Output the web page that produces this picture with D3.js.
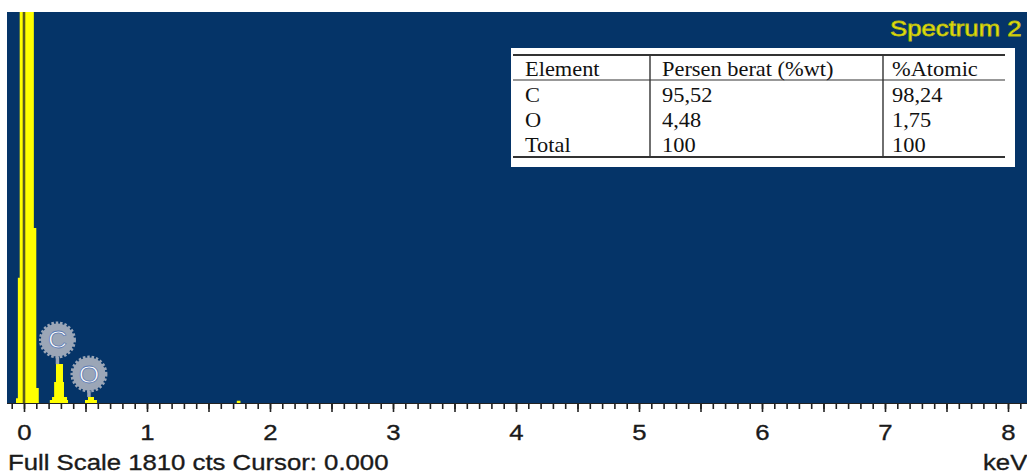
<!DOCTYPE html>
<html>
<head>
<meta charset="utf-8">
<script src="https://cdn.jsdelivr.net/npm/d3@7"></script>
<style>
  body { margin: 0; background: #fff; overflow: hidden; }
  svg { display: block; }
</style>
</head>
<body>
<svg id="chart" width="1027" height="474"></svg>
<script>
// Spectrum channels (keV start of each step) and counts
const energy = [-0.12, -0.065, -0.05, -0.035, 0.08, 0.10, 0.12,
  0.21, 0.228, 0.245, 0.26, 0.317, 0.325, 0.35, 0.358,
  0.496, 0.52, 0.569, 0.593,
  1.73, 1.76, 8.3]
const counts = [0, 22, 580, 2600, 810, 70, 0,
  14, 28, 97, 180, 97, 28, 14, 0,
  14, 28, 14, 0,
  10, 0, 0]

// Element markers
const elements = ['C', 'O']
const elementEnergy = [0.272, 0.528]
const elementLabelCts = [292, 134]
const elementPeakCts = [180, 28]

// Axis
const majorTicks = [0, 0.5, 1, 1.5, 2, 2.5, 3, 3.5, 4, 4.5, 5, 5.5, 6, 6.5, 7, 7.5, 8]
const tickLabels = ['0', '1', '2', '3', '4', '5', '6', '7', '8']
const fullScale = 1810
const cursor = 0.000

// Results table
const tableHeader = ['Element', 'Persen berat (%wt)', '%Atomic']
const tableElement = ['C', 'O', 'Total']
const tableWt = ['95,52', '4,48', '100']
const tableAt = ['98,24', '1,75', '100']

const svg = d3.select('#chart')
const plot = { left: 7, right: 1027, top: 12, bottom: 403 }
const sx = 1.17
const sans = 'Liberation Sans, Arial, sans-serif'

let x = d3.scaleLinear().domain([0, 8]).range([24, 1008])
let y = d3.scaleLinear().domain([0, fullScale]).range([plot.bottom, plot.top])

svg.append('defs').append('clipPath').attr('id', 'plotClip')
  .append('rect')
  .attr('x', plot.left).attr('y', plot.top)
  .attr('width', plot.right - plot.left).attr('height', plot.bottom - plot.top)

// Background
svg.append('rect')
  .attr('x', plot.left).attr('y', plot.top)
  .attr('width', plot.right - plot.left).attr('height', plot.bottom - plot.top)
  .attr('fill', '#053468')

let g = svg.append('g').attr('clip-path', 'url(#plotClip)')

let spectrum = energy.map((e, i) => ({ e: e, c: counts[i] }))
let area = d3.area()
  .curve(d3.curveStepAfter)
  .x(d => x(d.e))
  .y0(y(0))
  .y1(d => y(d.c))

g.append('path')
  .datum(spectrum)
  .attr('d', area)
  .attr('fill', '#ffff00')

// Cursor
g.append('line')
  .attr('x1', x(cursor)).attr('x2', x(cursor))
  .attr('y1', plot.top).attr('y2', y(0))
  .attr('stroke', '#5a5a1e')
  .attr('stroke-width', 2.6)

// Element markers
elements.forEach((el, i) => {
  let cx = x(elementEnergy[i])
  let cy = y(elementLabelCts[i])
  let r = 16.5
  let m = g.append('g')
  m.append('line')
    .attr('x1', cx).attr('x2', cx)
    .attr('y1', cy + r).attr('y2', y(elementPeakCts[i]))
    .attr('stroke', '#9aa5b6')
    .attr('stroke-width', 3.5)
  m.append('circle')
    .attr('cx', cx).attr('cy', cy).attr('r', r)
    .attr('fill', '#9ba6b7')
    .attr('stroke', '#9ba6b7')
    .attr('stroke-width', 4)
    .attr('stroke-dasharray', '2.4 1.8')
  m.append('text')
    .attr('transform', `translate(${cx},${cy + 8.5}) scale(1.1,1)`)
    .attr('text-anchor', 'middle')
    .attr('font-family', sans)
    .attr('font-size', 24)
    .attr('fill', '#ffffff')
    .attr('stroke', '#5f7db4')
    .attr('stroke-width', 0.8)
    .text(el)
})

// Axis
let axisG = svg.append('g').attr('transform', `translate(0,${plot.bottom})`)
let minorTicks = d3.range(-1, 83).map(d => d / 10)
axisG.append('g')
  .call(d3.axisBottom(x).tickValues(minorTicks).tickSize(6).tickFormat(''))
  .call(a => a.select('.domain').remove())
axisG.append('g')
  .call(d3.axisBottom(x).tickValues(majorTicks).tickSize(9)
    .tickFormat(d => Number.isInteger(d) ? tickLabels[d] : ''))
  .call(a => a.select('.domain').remove())
  .call(a => a.selectAll('text')
    .attr('y', 37)
    .attr('dy', 0)
    .attr('transform', `scale(${sx},1)`)
    .attr('font-family', sans)
    .attr('font-size', 22)
    .attr('fill', '#1a1a1a')
    .attr('stroke', '#1a1a1a')
    .attr('stroke-width', 0.35))
axisG.selectAll('.tick line').attr('stroke', '#222').attr('stroke-width', 1.6)
axisG.append('line')
  .attr('x1', plot.left).attr('x2', plot.right)
  .attr('y1', 0.5).attr('y2', 0.5)
  .attr('stroke', '#222')

// Footer texts
svg.append('text')
  .attr('transform', `translate(8,470) scale(${sx},1)`)
  .attr('font-family', sans)
  .attr('font-size', 22)
  .attr('fill', '#1a1a1a')
  .attr('stroke', '#1a1a1a')
  .attr('stroke-width', 0.35)
  .text('Full Scale ' + fullScale + ' cts Cursor: ' + cursor.toFixed(3))
svg.append('text')
  .attr('transform', `translate(983,470) scale(${sx},1)`)
  .attr('font-family', sans)
  .attr('font-size', 22)
  .attr('fill', '#1a1a1a')
  .attr('stroke', '#1a1a1a')
  .attr('stroke-width', 0.35)
  .text('keV')

// Title
svg.append('text')
  .attr('transform', `translate(890,36) scale(${sx},1)`)
  .attr('font-family', sans)
  .attr('font-size', 22)
  .attr('fill', '#e8e80c')
  .attr('stroke', '#b8b810')
  .attr('stroke-width', 0.8)
  .text('Spectrum 2')

// Table
let tb = svg.append('g')
tb.append('rect')
  .attr('x', 511).attr('y', 48).attr('width', 504).attr('height', 119)
  .attr('fill', '#ffffff')
const hLines = [[55, 2], [80, 1.2], [157, 2]]
hLines.forEach(h => {
  tb.append('line')
    .attr('x1', 513).attr('x2', 1005)
    .attr('y1', h[0]).attr('y2', h[0])
    .attr('stroke', '#333').attr('stroke-width', h[1])
})
const colX = [525, 662, 892]
;[650, 883].forEach(cx => {
  tb.append('line')
    .attr('x1', cx).attr('x2', cx).attr('y1', 55).attr('y2', 157)
    .attr('stroke', '#333').attr('stroke-width', 1.4)
})
let rows = [tableHeader].concat(tableElement.map((e, i) => [e, tableWt[i], tableAt[i]]))
const rowY = [76, 102, 127, 152]
rows.forEach((row, ri) => {
  row.forEach((cell, ci) => {
    tb.append('text')
      .attr('transform', `translate(${colX[ci]},${rowY[ri]}) scale(1.12,1)`)
      .attr('font-family', 'Liberation Serif, Times New Roman, serif')
      .attr('font-size', 20)
      .attr('fill', '#111')
      .text(cell)
  })
})
</script>
</body>
</html>
